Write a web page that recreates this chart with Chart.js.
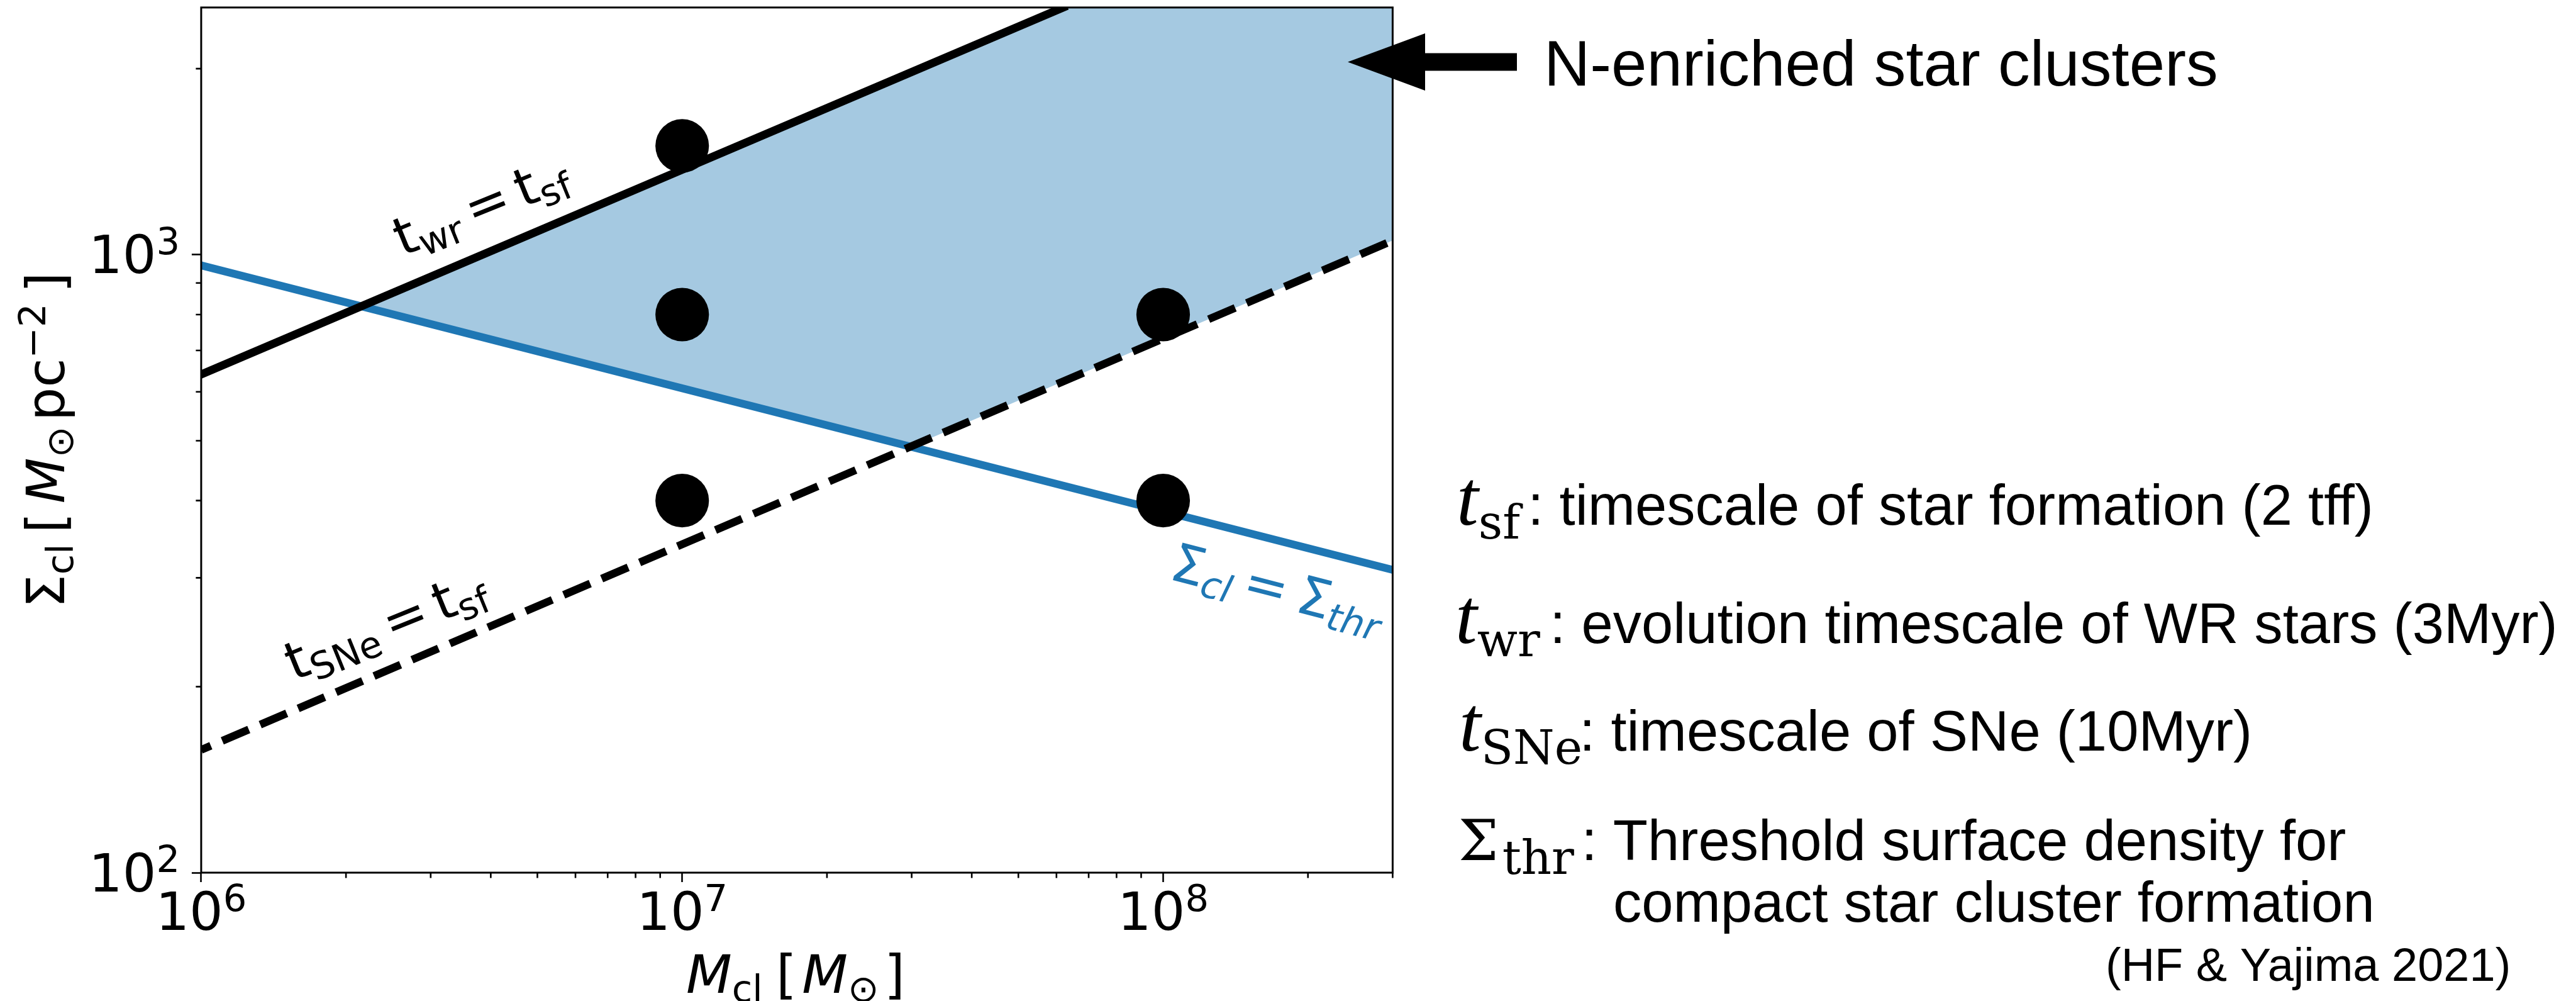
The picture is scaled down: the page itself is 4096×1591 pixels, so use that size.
<!DOCTYPE html>
<html>
<head>
<meta charset="utf-8">
<script src="https://cdn.jsdelivr.net/npm/chart.js@4.4.1/dist/chart.umd.min.js"></script>
<style>
  html, body { margin: 0; padding: 0; background: #fff; }
  #wrap { width: 4096px; height: 1591px; }
</style>
</head>
<body>
<div id="wrap"><canvas id="sigmaChart" width="4096" height="1591"></canvas></div>
<script>
// axis ranges (cluster mass, surface density)
const massRange = [1e6, 3e8];
const sigmaRange = [100, 2512];
const xTickExp = [6, 7, 8];
const yTickExp = [2, 3];

// Sigma_cl = Sigma_thr (blue)
const thrMass = [1e6, 3e8];
const thrSigma = [961, 309];
// t_wr = t_sf (solid black)
const wrMass = [1e6, 6.2e7];
const wrSigma = [640, 2512];
// t_SNe = t_sf (dashed black)
const sneMass = [1e6, 3e8];
const sneSigma = [158, 1054];
// simulated clusters
const clusterMass = [1e7, 1e7, 1e7, 1e8, 1e8];
const clusterSigma = [1500, 800, 400, 800, 400];

const S = 0.853;            // reference -> window
const F = 99 * S;           // matplotlib text size
const SANS = '"DejaVu Sans"';
const ARIAL = '"Liberation Sans", Arial, sans-serif';
const SERIF = '"Liberation Serif", serif';
const DSERIF = '"DejaVu Serif", serif';
const BLUE = '#1f77b4';

const toPts = (xs, ys) => xs.map((x, i) => ({ x: x, y: ys[i] }));

// shaded region: above the blue and dashed lines, below the solid line
const lg = Math.log10;
function logLine(ms, ss) {
    const a = (lg(ss[1]) - lg(ss[0])) / (lg(ms[1]) - lg(ms[0]));
    return { a: a, b: lg(ss[0]) - a * lg(ms[0]) };
}
function cross(p, q) {
    const lx = (q.b - p.b) / (p.a - q.a);
    return { x: Math.pow(10, lx), y: Math.pow(10, p.a * lx + p.b) };
}
const thrL = logLine(thrMass, thrSigma), wrL = logLine(wrMass, wrSigma), sneL = logLine(sneMass, sneSigma);
const pA = cross(thrL, wrL), pB = cross(thrL, sneL);
const upperEdge = [pA, { x: wrMass[1], y: wrSigma[1] }, { x: massRange[1], y: sigmaRange[1] }];
const lowerEdge = [pA, pB, { x: sneMass[1], y: sneSigma[1] }];

// ---- text helpers ----
function fnt(size, family, style) { return (style ? style + ' ' : '') + size.toFixed(1) + 'px ' + family; }
const main = s => ({ s: s, font: fnt(F, SANS) });
const ital = s => ({ s: s, font: fnt(F, SANS, 'italic') });
const sub = (s, it) => ({ s: s, font: fnt(0.7 * F, SANS, it ? 'italic' : ''), dy: 0.16 * F });
const sup = s => ({ s: s, font: fnt(0.7 * F, SANS), dy: -0.36 * F });
const gap = g => ({ gap: g * F });

function runsWidth(ctx, runs) {
    let w = 0;
    for (const r of runs) {
        if (r.gap) { w += r.gap; continue; }
        ctx.font = r.font;
        w += ctx.measureText(r.s).width;
    }
    return w;
}
function drawRuns(ctx, runs, x, y, color) {
    ctx.fillStyle = color || '#000';
    ctx.textAlign = 'left';
    ctx.textBaseline = 'alphabetic';
    for (const r of runs) {
        if (r.gap) { x += r.gap; continue; }
        ctx.font = r.font;
        ctx.fillText(r.s, x, y + (r.dy || 0));
        x += ctx.measureText(r.s).width;
    }
    return x;
}
function drawRotated(ctx, runs, x, y, deg, color) {
    ctx.save();
    ctx.translate(x, y);
    ctx.rotate(deg * Math.PI / 180);
    drawRuns(ctx, runs, 0, 0, color);
    ctx.restore();
}

const framePlugin = {
    id: 'frame',
    afterDatasetsDraw(chart) {
        const { ctx, chartArea: a, scales } = chart;
        ctx.save();
        ctx.strokeStyle = '#000';
        ctx.lineWidth = 3;
        ctx.strokeRect(a.left, a.top, a.right - a.left, a.bottom - a.top);
        // minor ticks
        ctx.lineWidth = 2.6;
        ctx.beginPath();
        for (let e = 6; e <= 8; e++) {
            for (let k = 2; k <= 9; k++) {
                const v = k * Math.pow(10, e);
                if (v > massRange[1]) continue;
                const px = scales.x.getPixelForValue(v);
                ctx.moveTo(px, a.bottom); ctx.lineTo(px, a.bottom + 8.5);
            }
        }
        for (let e = 2; e <= 3; e++) {
            for (let k = 2; k <= 9; k++) {
                const v = k * Math.pow(10, e);
                if (v > sigmaRange[1]) continue;
                const py = scales.y.getPixelForValue(v);
                ctx.moveTo(a.left, py); ctx.lineTo(a.left - 8.5, py);
            }
        }
        ctx.stroke();
        ctx.restore();
    }
};

const textPlugin = {
    id: 'texts',
    afterDraw(chart) {
        const { ctx, scales } = chart;
        ctx.save();

        // tick labels 10^n
        xTickExp.forEach(e => {
            const runs = [main('10'), sup(String(e))];
            const px = scales.x.getPixelForValue(Math.pow(10, e));
            drawRuns(ctx, runs, px - runsWidth(ctx, runs) / 2, 1733 * S);
        });
        yTickExp.forEach(e => {
            const runs = [main('10'), sup(String(e))];
            const py = scales.y.getPixelForValue(Math.pow(10, e));
            drawRuns(ctx, runs, 286 - runsWidth(ctx, runs), py + 29.5);
        });

        // axis titles
        const xLabel = [ital('M'), sub('cl'), gap(0.25), main('['), gap(0.1), ital('M'), sub('\u2299'), gap(0.1), main(']')];
        drawRuns(ctx, xLabel, 1265 - runsWidth(ctx, xLabel) / 2, 1578);
        const yLabel = [main('\u03a3'), sub('cl'), gap(0.2), main('['), gap(0.17), ital('M'), sub('\u2299'), gap(0.1),
                        main('pc'), sup('\u22122'), gap(0.2), main(']')];
        drawRotated(ctx, yLabel, 102.4, 699.5 + runsWidth(ctx, yLabel) / 2, -90);

        // line labels
        drawRotated(ctx, [main('t'), sub('wr'), gap(0.18), main('='), gap(0.18), main('t'), sub('sf')], 640, 407.7, -22);
        drawRotated(ctx, [main('t'), sub('SNe'), gap(0.18), main('='), gap(0.18), main('t'), sub('sf')], 467.4, 1082.5, -22);
        drawRotated(ctx, [main('\u03a3'), sub('cl', true), gap(0.2), main('='), gap(0.2), main('\u03a3'), sub('thr', true)],
                    1857, 920, 14.43, BLUE);

        // arrow + label
        ctx.fillStyle = '#000';
        ctx.beginPath();
        ctx.moveTo(2143, 98.5);
        ctx.lineTo(2266, 53);
        ctx.lineTo(2266, 84.5);
        ctx.lineTo(2412, 84.5);
        ctx.lineTo(2412, 112.6);
        ctx.lineTo(2266, 112.6);
        ctx.lineTo(2266, 144);
        ctx.closePath();
        ctx.fill();
        ctx.font = fnt(101.5, ARIAL);
        ctx.fillText('N-enriched star clusters', 2455, 136);

        // definitions on the right
        const tIt = s => ({ s: s, font: fnt(125, SERIF, 'italic') });
        const mSub = s => ({ s: s, font: fnt(75, DSERIF), dy: 21.3 });
        const rows = [
            { math: [tIt('t'), mSub('sf')], mx: 2316, text: ': timescale of star formation (2 tff)', tx: 2429.3, y: 834.2 },
            { math: [tIt('t'), mSub('wr')], mx: 2314, text: ': evolution timescale of WR stars (3Myr)', tx: 2464.3, y: 1021.9 },
            { math: [tIt('t'), mSub('SNe')], mx: 2320, text: ': timescale of SNe (10Myr)', tx: 2511.2, y: 1192.5 },
            { math: [{ s: '\u03a3', font: fnt(90, DSERIF) }, { gap: 6 }, mSub('thr')], mx: 2319, text: ': Threshold surface density for', tx: 2514.6, y: 1367.4 },
            { math: null, text: 'compact star cluster formation', tx: 2565, y: 1464.6 }
        ];
        rows.forEach(r => {
            if (r.math) drawRuns(ctx, r.math, r.mx, r.y);
            ctx.font = fnt(90.4, ARIAL);
            ctx.fillStyle = '#000';
            ctx.fillText(r.text, r.tx, r.y);
        });
        ctx.font = fnt(74, ARIAL);
        ctx.fillText('(HF & Yajima 2021)', 3348, 1559.3);

        ctx.restore();
    }
};

const ctx = document.getElementById('sigmaChart').getContext('2d');
new Chart(ctx, {
    type: 'line',
    data: {
        datasets: [
            {
                label: 'clusters',
                data: toPts(clusterMass, clusterSigma),
                showLine: false,
                pointRadius: 42.6,
                pointHoverRadius: 42.6,
                pointBackgroundColor: '#000',
                pointBorderWidth: 0,
                borderColor: '#000'
            },
            {
                label: 't_wr = t_sf',
                data: toPts(wrMass, wrSigma),
                borderColor: '#000',
                borderWidth: 13,
                borderCapStyle: 'square',
                pointRadius: 0,
                clip: 0
            },
            {
                label: 't_SNe = t_sf',
                data: toPts(sneMass, sneSigma),
                borderColor: '#000',
                borderWidth: 12.4,
                borderDash: [45.8, 19.8],
                borderDashOffset: 29.1,
                pointRadius: 0,
                clip: 0
            },
            {
                label: 'Sigma_thr',
                data: toPts(thrMass, thrSigma),
                borderColor: BLUE,
                borderWidth: 12.4,
                borderCapStyle: 'square',
                pointRadius: 0,
                clip: 0
            },
            {
                label: 'region top',
                data: upperEdge,
                borderColor: 'transparent',
                borderWidth: 0,
                pointRadius: 0,
                backgroundColor: 'rgba(31,119,180,0.4)',
                fill: '+1',
                clip: 0
            },
            {
                label: 'region bottom',
                data: lowerEdge,
                borderColor: 'transparent',
                borderWidth: 0,
                pointRadius: 0,
                fill: false,
                clip: 0
            }
        ]
    },
    options: {
        responsive: false,
        maintainAspectRatio: false,
        devicePixelRatio: 1,
        animation: false,
        events: [],
        layout: { autoPadding: false, padding: { left: 0, top: 11.9, right: 1881.6, bottom: 0 } },
        plugins: { legend: { display: false }, tooltip: { enabled: false } },
        scales: {
            x: {
                type: 'logarithmic',
                min: massRange[0],
                max: massRange[1],
                bounds: 'data',
                afterBuildTicks: axis => { axis.ticks = xTickExp.map(e => ({ value: Math.pow(10, e), major: true })); },
                afterFit: axis => { axis.height = 204; },
                ticks: { display: false },
                border: { display: false },
                grid: { display: true, drawOnChartArea: false, drawTicks: true, tickLength: 15, tickWidth: 2.6, tickColor: '#000' }
            },
            y: {
                type: 'logarithmic',
                min: sigmaRange[0],
                max: sigmaRange[1],
                bounds: 'data',
                afterBuildTicks: axis => { axis.ticks = yTickExp.map(e => ({ value: Math.pow(10, e), major: true })); },
                afterFit: axis => { axis.width = 319.9; },
                ticks: { display: false },
                border: { display: false },
                grid: { display: true, drawOnChartArea: false, drawTicks: true, tickLength: 15, tickWidth: 2.6, tickColor: '#000' }
            }
        }
    },
    plugins: [framePlugin, textPlugin]
});
</script>
</body>
</html>
